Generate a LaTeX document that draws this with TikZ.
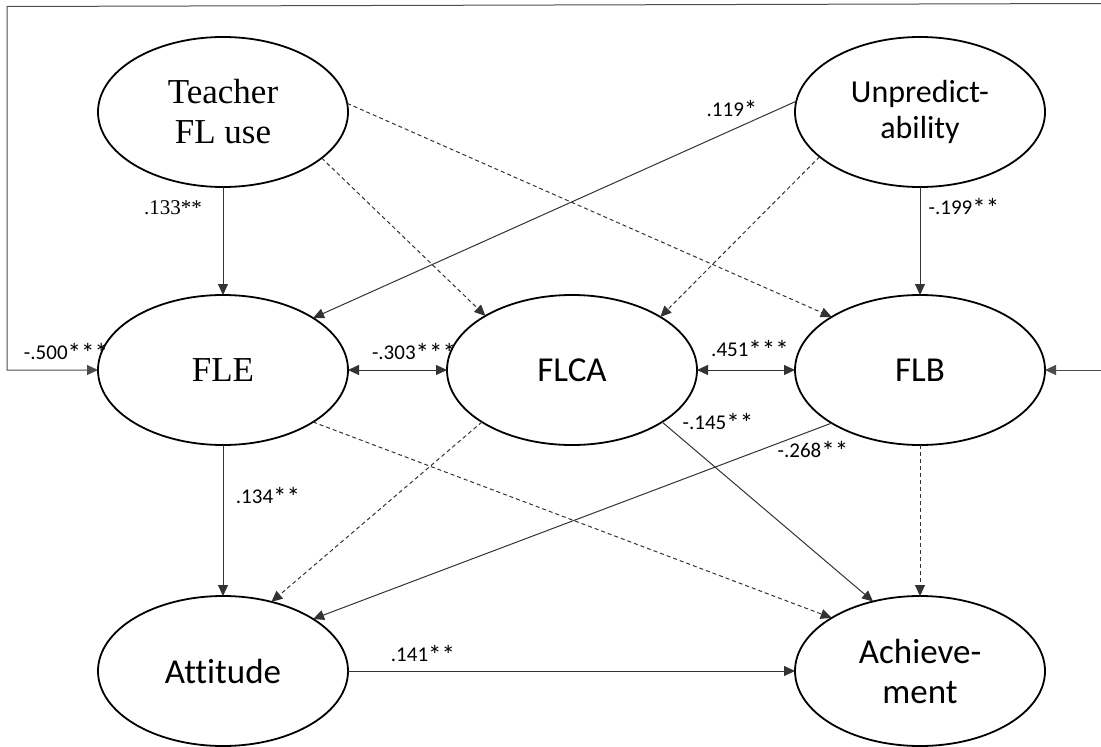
\documentclass[tikz,border=0pt]{standalone}
\usepackage{fontspec}
\setmainfont{Liberation Serif}
\newfontfamily\calib[Ligatures=NoCommon]{Carlito}
\newfontfamily\tms{Liberation Serif}
\usetikzlibrary{shapes.geometric,arrows.meta}
\newcommand\sts{\raisebox{-3pt}{\fontsize{27}{27}\selectfont*}}
\begin{document}
\begin{tikzpicture}[x=1pt,y=-1pt,
  lat/.style={ellipse,draw=black,line width=1.8pt,minimum width=250pt,minimum height=150pt,inner sep=0pt,outer sep=0pt,align=center},
  bigc/.style={font=\calib\fontsize{35}{40}\selectfont},
  bigu/.style={font=\calib\fontsize{32}{36}\selectfont},
  bigs/.style={font=\tms\fontsize{35}{40}\selectfont},
  lbl/.style={font=\calib\fontsize{21}{24}\selectfont,inner sep=0pt},
  lbls/.style={font=\tms\fontsize{21}{24}\selectfont,inner sep=0pt},
  conn/.style={draw=black!80,line width=1pt,-{Triangle[length=11pt,width=10pt]}},
  biconn/.style={draw=black!80,line width=1pt,{Triangle[length=11pt,width=10pt]}-{Triangle[length=11pt,width=10pt]}},
  dsh/.style={conn,dash pattern=on 4pt off 3pt},
  loopln/.style={draw=black!70,line width=1pt,-{Triangle[length=11pt,width=10pt]}},
  ]
\useasboundingbox (0,0) rectangle (1101,747);

% latent variables
\node[lat,bigs] (T) at (223,112) {Teacher\\FL use};
\node[lat,bigu] (U) at (920,112) {Unpredict-\\ability};
\node[lat,bigs] (FLE) at (223,370) {FLE};
\node[lat,bigc] (FLCA) at (572,370) {FLCA};
\node[lat,bigc] (FLB) at (920,370) {FLB};
\node[lat,bigc] (ATT) at (223,671) {Attitude};
\node[lat,bigc] (ACH) at (920,671) {Achieve-\\ment};

% outer loop
\coordinate (tl) at (7,6.5);
\coordinate (tr) at (1101,3.5);
\coordinate (lm) at (7,370);
\coordinate (rm) at (1101,370);
\draw[loopln] (tr) -- (tl) -- (lm) -- (FLE.west);
\draw[loopln] (rm) -- (FLB.east);

% paths
\draw[conn] (T.south) -- (FLE.north);
\draw[dsh] (T.-25) -- (FLCA.148.6);
\draw[dsh] (T.4.6) -- (FLB.149.2);
\draw[conn] (U.175.8) -- (FLE.30.3);
\draw[dsh] (U.204.7) -- (FLCA.31.2);
\draw[conn] (U.south) -- (FLB.north);
\draw[biconn] (FLE.east) -- (FLCA.west);
\draw[biconn] (FLCA.east) -- (FLB.west);
\draw[conn] (FLE.south) -- (ATT.north);
\draw[dsh] (FLE.-30.8) -- (ACH.149.2);
\draw[dsh] (FLCA.210.5) -- (ATT.55.4);
\draw[conn] (FLCA.-30.8) -- (ACH.124.6);
\draw[conn] (FLB.211.2) -- (ATT.30.2);
\draw[dsh] (FLB.south) -- (ACH.north);
\draw[conn] (ATT.east) -- (ACH.west);

% labels
\node[lbls] (l133) at (173,208) {.133**};
\node[lbl] (l500) at (66,353) {-.500\sts\sts\sts};
\node[lbl] (l303) at (414,353) {-.303\sts\sts\sts};
\node[lbl] (l119) at (732,110) {.119\sts};
\node[lbl] (l199) at (964,208) {-.199\sts\sts};
\node[lbl] (l451) at (750,350) {.451\sts\sts\sts};
\node[lbl] (l134) at (268,497) {.134\sts\sts};
\node[lbl] (l141) at (423,655) {.141\sts\sts};
\node[lbl] (l145) at (718,423) {-.145\sts\sts};
\node[lbl] (l268) at (813,451) {-.268\sts\sts};
\end{tikzpicture}
\end{document}
